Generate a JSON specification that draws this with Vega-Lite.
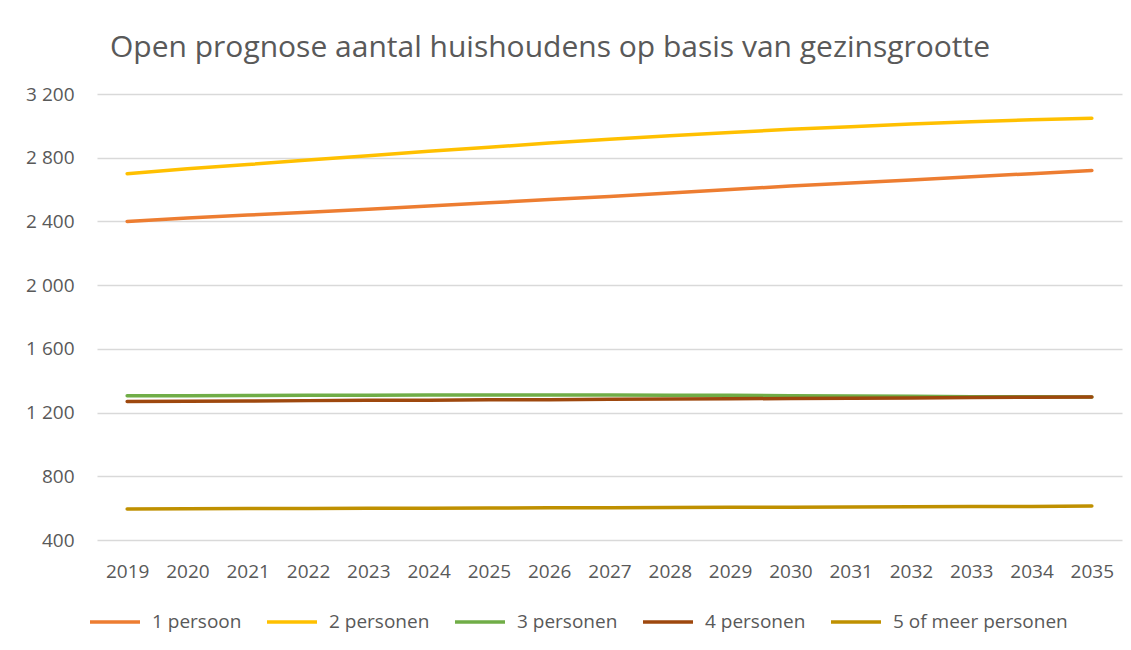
{
  "$schema": "https://vega.github.io/schema/vega-lite/v6.json",
  "autosize": {"type": "none"},
  "padding": {"left": 97, "top": 94, "right": 9, "bottom": 110},
  "width": 1025,
  "height": 446,
  "background": "white",
  "title": {
    "text": "Open prognose aantal huishoudens op basis van gezinsgrootte",
    "anchor": "start",
    "frame": "group",
    "dx": 13,
    "offset": -2,
    "baseline": "alphabetic",
    "font": "Open Sans",
    "fontSize": 30,
    "fontWeight": "normal",
    "color": "#595959"
  },
  "data": {
    "values": [
      {"year": "2019", "series": "1 persoon", "value": 2400},
      {"year": "2020", "series": "1 persoon", "value": 2422},
      {"year": "2021", "series": "1 persoon", "value": 2440},
      {"year": "2022", "series": "1 persoon", "value": 2458},
      {"year": "2023", "series": "1 persoon", "value": 2477},
      {"year": "2024", "series": "1 persoon", "value": 2497},
      {"year": "2025", "series": "1 persoon", "value": 2517},
      {"year": "2026", "series": "1 persoon", "value": 2537},
      {"year": "2027", "series": "1 persoon", "value": 2557},
      {"year": "2028", "series": "1 persoon", "value": 2578},
      {"year": "2029", "series": "1 persoon", "value": 2600},
      {"year": "2030", "series": "1 persoon", "value": 2622},
      {"year": "2031", "series": "1 persoon", "value": 2642},
      {"year": "2032", "series": "1 persoon", "value": 2660},
      {"year": "2033", "series": "1 persoon", "value": 2680},
      {"year": "2034", "series": "1 persoon", "value": 2700},
      {"year": "2035", "series": "1 persoon", "value": 2720},
      {"year": "2019", "series": "2 personen", "value": 2700},
      {"year": "2020", "series": "2 personen", "value": 2730},
      {"year": "2021", "series": "2 personen", "value": 2757},
      {"year": "2022", "series": "2 personen", "value": 2785},
      {"year": "2023", "series": "2 personen", "value": 2812},
      {"year": "2024", "series": "2 personen", "value": 2840},
      {"year": "2025", "series": "2 personen", "value": 2866},
      {"year": "2026", "series": "2 personen", "value": 2892},
      {"year": "2027", "series": "2 personen", "value": 2916},
      {"year": "2028", "series": "2 personen", "value": 2938},
      {"year": "2029", "series": "2 personen", "value": 2958},
      {"year": "2030", "series": "2 personen", "value": 2978},
      {"year": "2031", "series": "2 personen", "value": 2995},
      {"year": "2032", "series": "2 personen", "value": 3012},
      {"year": "2033", "series": "2 personen", "value": 3026},
      {"year": "2034", "series": "2 personen", "value": 3038},
      {"year": "2035", "series": "2 personen", "value": 3048},
      {"year": "2019", "series": "3 personen", "value": 1305},
      {"year": "2020", "series": "3 personen", "value": 1306},
      {"year": "2021", "series": "3 personen", "value": 1307},
      {"year": "2022", "series": "3 personen", "value": 1308},
      {"year": "2023", "series": "3 personen", "value": 1309},
      {"year": "2024", "series": "3 personen", "value": 1310},
      {"year": "2025", "series": "3 personen", "value": 1310},
      {"year": "2026", "series": "3 personen", "value": 1310},
      {"year": "2027", "series": "3 personen", "value": 1310},
      {"year": "2028", "series": "3 personen", "value": 1309},
      {"year": "2029", "series": "3 personen", "value": 1308},
      {"year": "2030", "series": "3 personen", "value": 1306},
      {"year": "2031", "series": "3 personen", "value": 1304},
      {"year": "2032", "series": "3 personen", "value": 1302},
      {"year": "2033", "series": "3 personen", "value": 1300},
      {"year": "2034", "series": "3 personen", "value": 1299},
      {"year": "2035", "series": "3 personen", "value": 1298},
      {"year": "2019", "series": "4 personen", "value": 1270},
      {"year": "2020", "series": "4 personen", "value": 1271},
      {"year": "2021", "series": "4 personen", "value": 1273},
      {"year": "2022", "series": "4 personen", "value": 1275},
      {"year": "2023", "series": "4 personen", "value": 1277},
      {"year": "2024", "series": "4 personen", "value": 1278},
      {"year": "2025", "series": "4 personen", "value": 1280},
      {"year": "2026", "series": "4 personen", "value": 1281},
      {"year": "2027", "series": "4 personen", "value": 1283},
      {"year": "2028", "series": "4 personen", "value": 1285},
      {"year": "2029", "series": "4 personen", "value": 1287},
      {"year": "2030", "series": "4 personen", "value": 1288},
      {"year": "2031", "series": "4 personen", "value": 1290},
      {"year": "2032", "series": "4 personen", "value": 1292},
      {"year": "2033", "series": "4 personen", "value": 1294},
      {"year": "2034", "series": "4 personen", "value": 1296},
      {"year": "2035", "series": "4 personen", "value": 1298},
      {"year": "2019", "series": "5 of meer personen", "value": 595},
      {"year": "2020", "series": "5 of meer personen", "value": 596},
      {"year": "2021", "series": "5 of meer personen", "value": 597},
      {"year": "2022", "series": "5 of meer personen", "value": 598},
      {"year": "2023", "series": "5 of meer personen", "value": 599},
      {"year": "2024", "series": "5 of meer personen", "value": 600},
      {"year": "2025", "series": "5 of meer personen", "value": 601},
      {"year": "2026", "series": "5 of meer personen", "value": 602},
      {"year": "2027", "series": "5 of meer personen", "value": 603},
      {"year": "2028", "series": "5 of meer personen", "value": 604},
      {"year": "2029", "series": "5 of meer personen", "value": 605},
      {"year": "2030", "series": "5 of meer personen", "value": 606},
      {"year": "2031", "series": "5 of meer personen", "value": 607},
      {"year": "2032", "series": "5 of meer personen", "value": 608},
      {"year": "2033", "series": "5 of meer personen", "value": 610},
      {"year": "2034", "series": "5 of meer personen", "value": 611},
      {"year": "2035", "series": "5 of meer personen", "value": 613}
    ]
  },
  "mark": {"type": "line", "strokeWidth": 3.5, "strokeCap": "round", "strokeJoin": "round"},
  "encoding": {
    "x": {
      "field": "year",
      "type": "ordinal",
      "scale": {"type": "point", "padding": 0.5},
      "axis": {
        "title": null,
        "labelAngle": 0,
        "labelPadding": 22,
        "domain": false,
        "ticks": false,
        "grid": false,
        "labelFont": "Open Sans",
        "labelFontSize": 19,
        "labelColor": "#595959"
      }
    },
    "y": {
      "field": "value",
      "type": "quantitative",
      "scale": {"domain": [400, 3200], "nice": false, "zero": false},
      "axis": {
        "title": null,
        "values": [400, 800, 1200, 1600, 2000, 2400, 2800, 3200],
        "labelExpr": "replace(format(datum.value, ','), ',', ' ')",
        "labelPadding": 23,
        "domain": false,
        "ticks": false,
        "grid": true,
        "gridColor": "#d9d9d9",
        "gridWidth": 1.3,
        "labelFont": "Open Sans",
        "labelFontSize": 19,
        "labelColor": "#595959"
      }
    },
    "color": {
      "field": "series",
      "type": "nominal",
      "scale": {
        "domain": ["1 persoon", "2 personen", "3 personen", "4 personen", "5 of meer personen"],
        "range": ["#ED7D31", "#FFC000", "#70AD47", "#9E480E", "#BF9000"]
      },
      "legend": {
        "title": null,
        "orient": "none",
        "direction": "horizontal",
        "legendX": -9,
        "legendY": 501,
        "symbolType": "stroke",
        "symbolSize": 2500,
        "symbolStrokeWidth": 3.5,
        "labelOffset": 10,
        "columnPadding": 18,
        "labelFont": "Open Sans",
        "labelFontSize": 19,
        "labelColor": "#595959",
        "labelLimit": 300
      }
    }
  },
  "config": {
    "view": {"stroke": null}
  }
}
